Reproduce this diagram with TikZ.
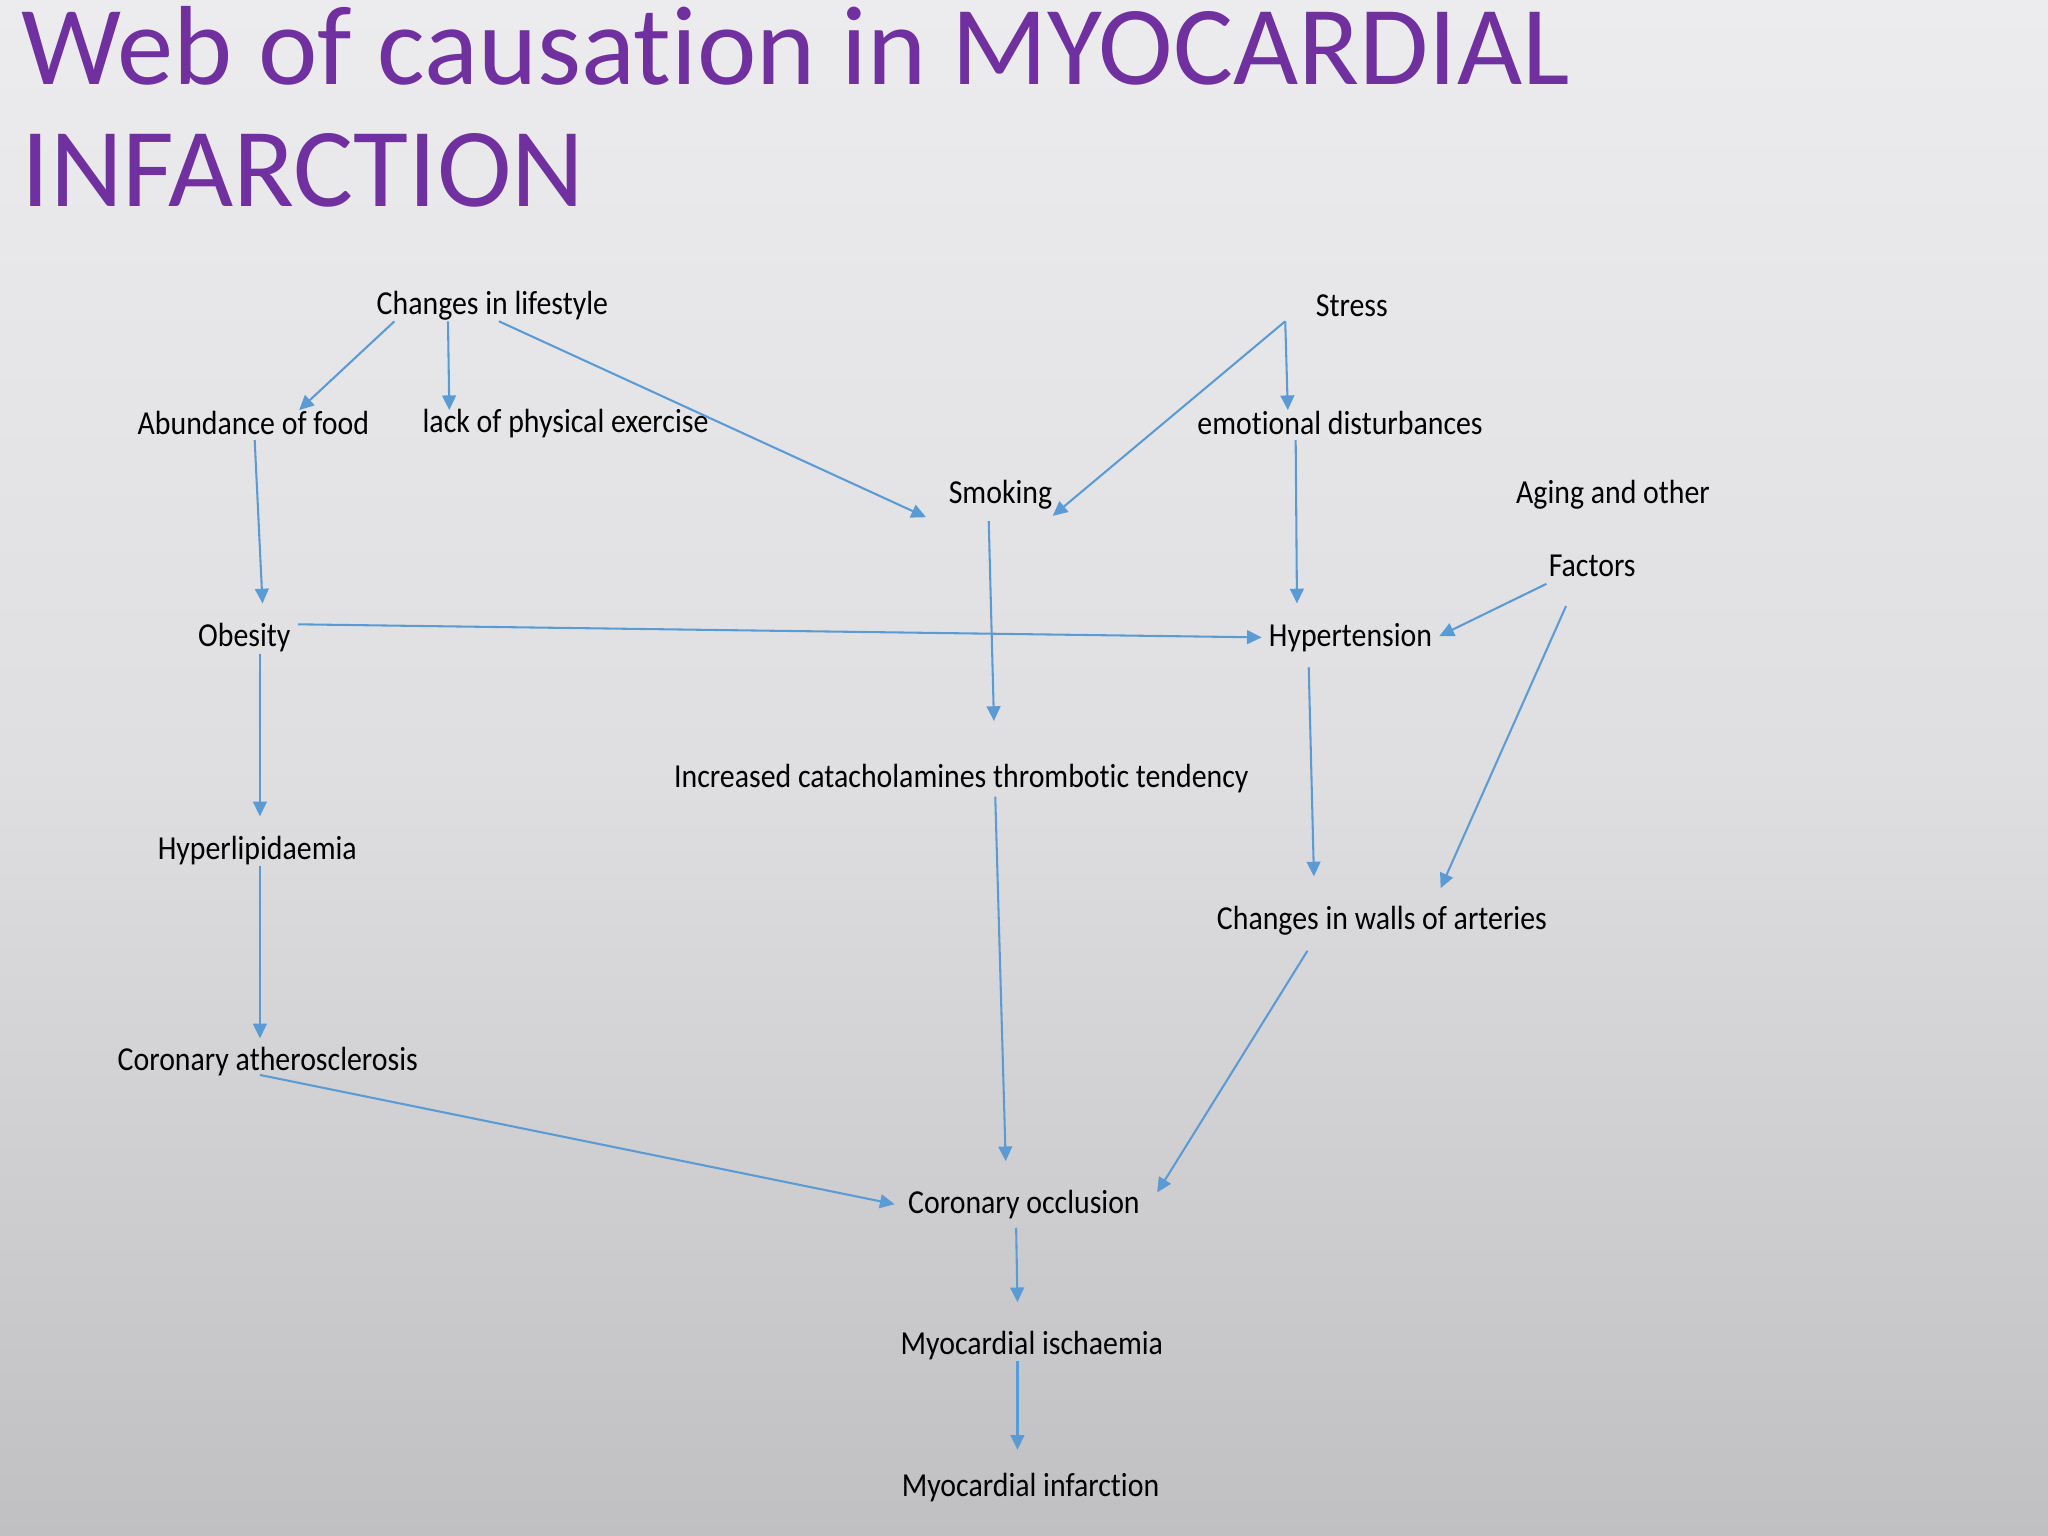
\documentclass[tikz,border=0pt]{standalone}
\usepackage{fontspec}
\setmainfont{Carlito}[Ligatures={NoCommon}]
\newfontfamily\bodyfont{Carlito}[FakeStretch=0.89,Ligatures={NoCommon}]
\usetikzlibrary{arrows.meta}
\definecolor{ttl}{HTML}{7030A0}
\definecolor{arc}{HTML}{5B9BD5}
\definecolor{bgtop}{RGB}{236,236,238}
\definecolor{bgbot}{RGB}{192,191,193}
\begin{document}
\begin{tikzpicture}[x=0.01cm,y=-0.01cm,
  lbl/.style={font=\bodyfont\fontsize{7.3}{8}\selectfont,inner sep=0pt},
  arr/.style={draw=arc,line width=0.45pt,-{Triangle[length=3.2pt,width=3pt]}}]
\shade[top color=bgtop,bottom color=bgbot,middle color=bgtop!70!bgbot] (0,0) rectangle (1568,1176);
\useasboundingbox (0,0) rectangle (1568,1176);
\node[anchor=base west,inner sep=0pt,text=ttl,font=\fontsize{24.5}{28}\selectfont] (t1) at (16,65) {Web of causation in MYOCARDIAL};
\node[anchor=base west,inner sep=0pt,text=ttl,font=\fontsize{24.5}{28}\selectfont] (t2) at (16,158) {INFARCTION};
\node[lbl] (cl) at (377,234) {Changes in lifestyle};
\node[lbl] (st) at (1035,234) {Stress};
\node[lbl] (af) at (194,324) {Abundance of food};
\node[lbl] (lp) at (433,324) {lack of physical exercise};
\node[lbl] (ed) at (1026,324) {emotional disturbances};
\node[lbl] (sm) at (766,379) {Smoking};
\node[lbl] (ag) at (1235,379) {Aging and other};
\node[lbl] (fa) at (1219,433) {Factors};
\node[lbl] (ob) at (187,488) {Obesity};
\node[lbl] (hy) at (1034,488) {Hypertension};
\node[lbl] (ic) at (736,596) {Increased catacholamines thrombotic tendency};
\node[lbl] (hl) at (197,651) {Hyperlipidaemia};
\node[lbl] (cw) at (1058,705) {Changes in walls of arteries};
\node[lbl] (ca) at (205,813) {Coronary atherosclerosis};
\node[lbl] (co) at (784,922) {Coronary occlusion};
\node[lbl] (mi) at (790,1030) {Myocardial ischaemia};
\node[lbl] (mf) at (789,1139) {Myocardial infarction};
\draw[arr] (302,246) -- (229,314);
\draw[arr] (343,246) -- (344,314);
\draw[arr] (382,246) -- (709,396);
\draw[arr] (984,246) -- (806,395);
\draw[arr] (984,246) -- (986,314);
\draw[arr] (195,337) -- (201,462);
\draw[arr] (757,399) -- (761,552);
\draw[arr] (992,337) -- (993,462);
\draw[arr] (228,478) -- (966,488);
\draw[arr] (1184,447) -- (1102,487);
\draw[arr] (199,501) -- (199,625);
\draw[arr] (1002,511) -- (1006,671);
\draw[arr] (1199,464) -- (1103,680);
\draw[arr] (199,663) -- (199,795);
\draw[arr] (762,610) -- (770,889);
\draw[arr] (199,823) -- (685,922);
\draw[arr] (1001,728) -- (886,913);
\draw[arr] (778,940) -- (779,997);
\draw[arr] (779,1042) -- (779,1110);
\end{tikzpicture}
\end{document}
